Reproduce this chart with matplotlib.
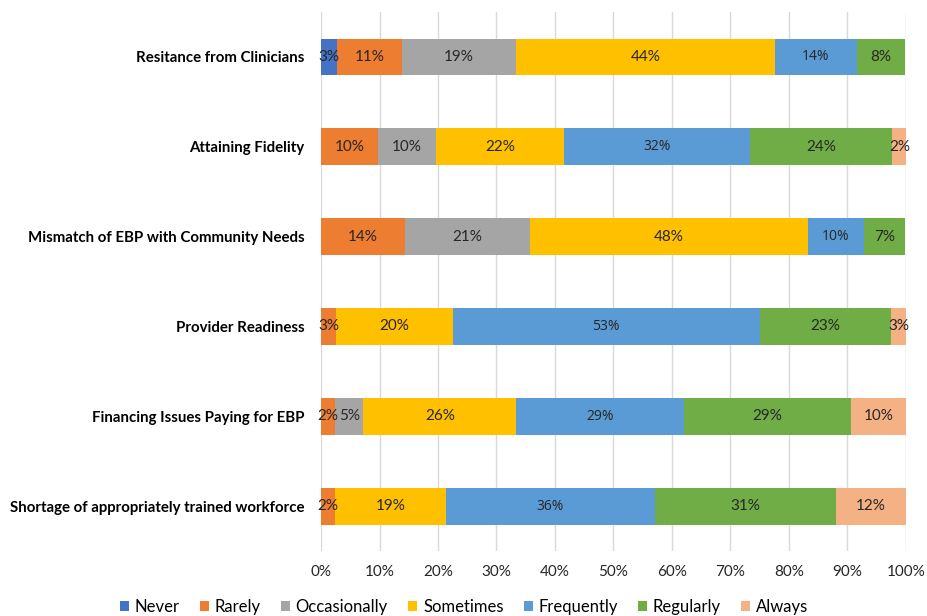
import matplotlib
matplotlib.use("Agg")
import matplotlib.pyplot as plt
import numpy as np
from matplotlib.patches import Patch

categories = ["Resitance from Clinicians", "Attaining Fidelity",
              "Mismatch of EBP with Community Needs", "Provider Readiness",
              "Financing Issues Paying for EBP",
              "Shortage of appropriately trained workforce"]
series = ["Never", "Rarely", "Occasionally", "Sometimes", "Frequently", "Regularly", "Always"]
never        = [2.8, 0, 0, 0, 0, 0]
rarely       = [11.1, 9.8, 14.3, 2.5, 2.4, 2.4]
occasionally = [19.4, 9.8, 21.4, 0, 4.8, 0]
sometimes    = [44.4, 22.0, 47.6, 20.0, 26.2, 19.0]
frequently   = [13.9, 31.7, 9.5, 52.5, 28.6, 35.7]
regularly    = [8.3, 24.4, 7.1, 22.5, 28.6, 31.0]
always       = [0, 2.4, 0, 2.5, 9.5, 11.9]
values = [never, rarely, occasionally, sometimes, frequently, regularly, always]
colors = ["#4472C4", "#ED7D31", "#A5A5A5", "#FFC000", "#5B9BD5", "#70AD47", "#F4B183"]

plt.rcParams['font.family'] = ['Lato', 'DejaVu Sans']
fig = plt.figure(figsize=(9.28, 6.16), dpi=100)
ax = fig.add_axes([0.346, 0.1055, 0.630, 0.875])

def pct(v):
    return f"{int(np.floor(v + 0.5))}%"

y = np.arange(len(categories))
left = np.zeros(len(categories))
for name, vals, col in zip(series, values, colors):
    vals = np.array(vals)
    ax.barh(y, vals, left=left, height=0.41, color=col, label=name, zorder=3)
    for yi, (l, v) in enumerate(zip(left, vals)):
        if v > 0:
            if name == "Frequently":
                ax.text(l + v / 2, yi, pct(v), ha="center", va="center",
                        fontsize=10, color="#262626", family=["Open Sans", "DejaVu Sans"], zorder=4)
            else:
                ax.text(l + v / 2, yi, pct(v), ha="center", va="center",
                        fontsize=11, color="#262626", zorder=4)
    left = left + vals

ax.set_ylim(len(categories) - 0.5, -0.5)
ax.set_xlim(0, 100)
ax.set_xticks(np.arange(0, 101, 10))
ax.set_xticklabels([f"{t}%" for t in range(0, 101, 10)], fontsize=11, color="#262626")
ax.set_yticks(y)
ax.set_yticklabels(categories, fontsize=10.8, fontweight="bold", color="#000000")
ax.tick_params(axis="both", length=0)
ax.tick_params(axis="y", pad=12)
ax.tick_params(axis="x", pad=10)
ax.grid(axis="x", color="#D9D9D9", linewidth=1, zorder=0)
for s in ax.spines.values():
    s.set_visible(False)

handles = [Patch(facecolor=c, label=n) for n, c in zip(series, colors)]
fig.legend(handles=handles, loc="center", bbox_to_anchor=(0.5, 0.015), ncol=7,
           frameon=False, fontsize=12, handlelength=0.55, handleheight=0.55,
           handletextpad=0.35, columnspacing=1.2)

fig.savefig("out.png", dpi=100)
